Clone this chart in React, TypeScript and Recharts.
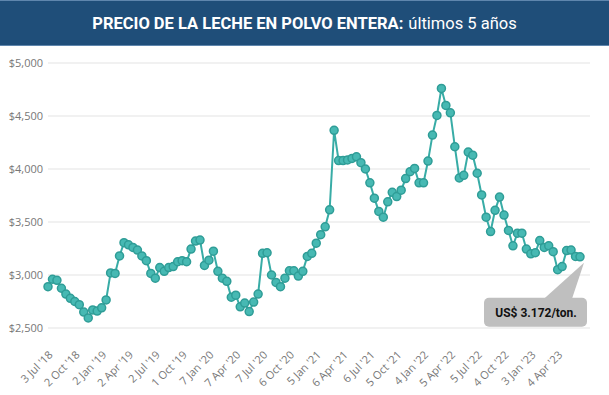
import { LineChart, Line, XAxis, YAxis, CartesianGrid } from 'recharts';

// precio WMP (US$/ton), una subasta GDT cada dos semanas, jul 2018 - jun 2023
const precios = [
  2890, 2960, 2950, 2875, 2820, 2780, 2750, 2720, 2650, 2595,
  2670, 2660, 2690, 2765, 3020, 3015, 3180, 3305, 3285, 3260,
  3235, 3180, 3135, 3015, 2970, 3070, 3035, 3070, 3080, 3125,
  3135, 3125, 3245, 3320, 3330, 3090, 3140, 3225, 3035, 2970,
  2940, 2790, 2810, 2700, 2735, 2655, 2745, 2820, 3205, 3210,
  3000, 2930, 2890, 2970, 3040, 3040, 2990, 3035, 3175, 3205,
  3300, 3380, 3455, 3615, 4365, 4080, 4080, 4085, 4100, 4115,
  4060, 4000, 3870, 3725, 3600, 3545, 3690, 3780, 3740, 3800,
  3910, 3975, 4005, 3870, 3870, 4075, 4320, 4505, 4760, 4600,
  4530, 4210, 3915, 3940, 4160, 4130, 3960, 3755, 3545, 3410,
  3610, 3735, 3565, 3420, 3275, 3395, 3395, 3245, 3200, 3210,
  3325, 3260, 3275, 3220, 3050, 3080, 3230, 3235, 3175, 3172,
];

// una etiqueta cada 6 subastas
const etiquetas = [
  "3 Jul '18", "2 Oct '18", "2 Jan '19", "2 Apr '19", "2 Jul '19",
  "1 Oct '19", "7 Jan '20", "7 Apr '20", "7 Jul '20", "6 Oct '20",
  "5 Jan '21", "6 Apr '21", "6 Jul '21", "5 Oct '21", "4 Jan '22",
  "5 Apr '22", "5 Jul '22", "4 Oct '22", "3 Jan '23", "4 Apr '23",
];
const pasoEtiqueta = 6;

const yTicks = [2500, 3000, 3500, 4000, 4500, 5000];
const ultimoTexto = 'US$ 3.172/ton.';

const data = precios.map((precio, n) => ({ n, precio }));

const axisFont = "'Open Sans', sans-serif";

function Callout(props: any) {
  const { x, y, index } = props;
  if (index !== precios.length - 1) return null;
  return (
    <g>
      <polygon
        points={`${x - 36},${y + 42} ${x - 8},${y + 42} ${x + 4},${y + 6}`}
        fill="#bfbfbf"
      />
      <rect x={x - 96} y={y + 41} width={103} height={29} rx={5} fill="#bfbfbf" />
      <text
        x={x - 44}
        y={y + 60}
        textAnchor="middle"
        fontFamily="Roboto, sans-serif"
        fontWeight={700}
        fontSize={12}
        fill="#111"
      >
        {ultimoTexto}
      </text>
    </g>
  );
}

export default function App() {
  return (
    <div style={{ position: 'absolute', left: 0, top: 0, width: 609, height: 395, background: '#fff' }}>
      <div
        style={{
          height: 44,
          background: '#1f4e79',
          borderTop: '1px solid #5f86ad',
          borderBottom: '1px solid #5f86ad',
          color: '#fff',
          display: 'flex',
          alignItems: 'center',
          justifyContent: 'center',
          fontFamily: 'Roboto, sans-serif',
          fontSize: 16.5,
        }}
      >
        <span style={{ fontWeight: 700 }}>PRECIO DE LA LECHE EN POLVO ENTERA:</span>
        <span style={{ marginLeft: 5 }}>últimos 5 años</span>
      </div>
      <LineChart width={609} height={349} data={data} margin={{ top: 17, right: 19, left: 0, bottom: 7 }}>
        <CartesianGrid vertical={false} stroke="#e3e3e3" />
        <XAxis
          dataKey="n"
          height={60}
          interval={pasoEtiqueta - 1}
          padding={{ left: 0, right: 10 }}
          axisLine={false}
          tickLine={false}
          tickSize={6}
          tickMargin={16}
          angle={-45}
          textAnchor="end"
          tick={{ fill: '#777', fontSize: 11, fontFamily: axisFont }}
          tickFormatter={(v: number) => etiquetas[v / pasoEtiqueta] ?? ''}
        />
        <YAxis
          width={48}
          domain={[2500, 5000]}
          ticks={yTicks}
          axisLine={false}
          tickLine={false}
          tickSize={3}
          tickMargin={2}
          tick={{ fill: '#777', fontSize: 11, fontFamily: axisFont }}
          tickFormatter={(v: number) => '$' + v.toLocaleString('en-US')}
        />
        <Line
          type="linear"
          dataKey="precio"
          stroke="#38aca6"
          strokeWidth={2}
          dot={{ r: 4, fill: '#47b9b3', stroke: '#2f9d97', strokeWidth: 1.5 }}
          label={<Callout />}
          isAnimationActive={false}
        />
      </LineChart>
    </div>
  );
}
